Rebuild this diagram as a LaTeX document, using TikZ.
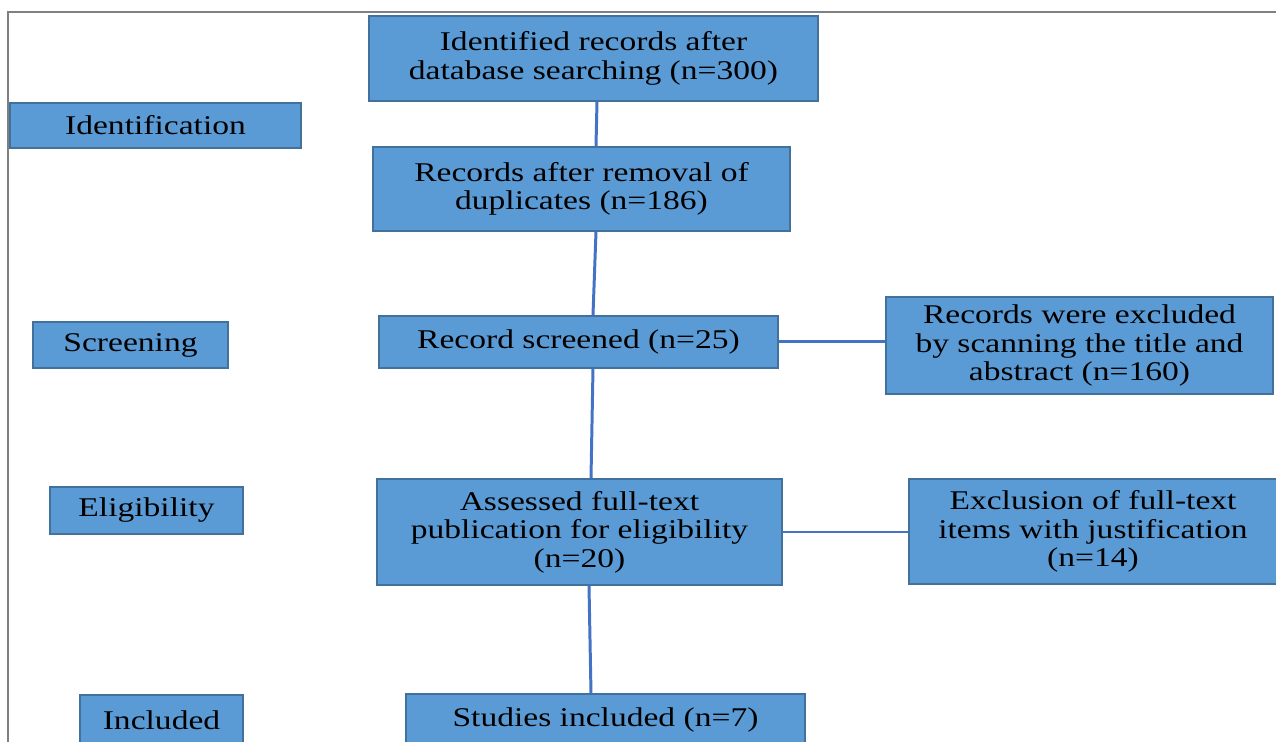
\documentclass[tikz,border=0pt]{standalone}
\usepackage{fontspec}
\setmainfont{Liberation Serif}[FakeStretch=1.24]
\definecolor{boxfill}{HTML}{5B9BD5}
\definecolor{boxline}{HTML}{41719C}
\definecolor{linkblue}{HTML}{4472C4}
\begin{document}
\begin{tikzpicture}[x=0.02cm,y=-0.02cm,
  every node/.style={inner sep=1pt},
  box/.style={draw=boxline,line width=0.8pt,fill=boxfill,align=center,
    font=\fontsize{15.4}{16.2}\selectfont},
  link/.style={draw=linkblue,line width=1.7pt}]
  \useasboundingbox (0,0) rectangle (1276,742);
  \clip (0,0) rectangle (1276,742);
  \draw[gray,line width=0.6pt] (8,742) -- (8,12) -- (1276,12);
  \node[box,minimum width=5.82cm,minimum height=0.9cm] (ident) at (155.5,125.5) {Identification};
  \node[box,minimum width=3.9cm,minimum height=0.92cm] (screen) at (130.5,345) {Screening};
  \node[box,minimum width=3.86cm,minimum height=0.94cm] (elig) at (146.5,510.5) {Eligibility};
  \node[box,minimum width=3.26cm,minimum height=1cm] (incl) at (161.5,720) {Included};
  \node[box,minimum width=8.98cm,minimum height=1.7cm] (found) at (593.5,58.5)
    {Identified records after\\database searching (n=300)};
  \node[box,minimum width=8.34cm,minimum height=1.68cm] (dedup) at (581.5,189)
    {Records after removal of\\duplicates (n=186)};
  \node[box,minimum width=7.98cm,minimum height=1.04cm] (screened) at (578.5,342)
    {Record screened (n=25)};
  \node[box,minimum width=8.1cm,minimum height=2.12cm] (fulltext) at (579.5,532)
    {Assessed full-text\\publication for eligibility\\(n=20)};
  \node[box,minimum width=7.98cm,minimum height=1.04cm] (studies) at (605.5,720)
    {Studies included (n=7)};
  \node[box,minimum width=7.74cm,minimum height=1.94cm] (dropped) at (1079.5,345.5)
    {Records were excluded\\by scanning the title and\\abstract (n=160)};
  \node[box,minimum width=7.36cm,minimum height=2.1cm] (justified) at (1093,531.5)
    {Exclusion of full-text\\items with justification\\(n=14)};
  \draw[link] ([xshift=0.07cm]found.south) -- ([xshift=0.29cm]dedup.north);
  \draw[link] ([xshift=0.29cm]dedup.south) -- ([xshift=0.29cm]screened.north);
  \draw[link] ([xshift=0.29cm]screened.south) -- ([xshift=0.23cm]fulltext.north);
  \draw[link] ([xshift=0.19cm]fulltext.south) -- ([xshift=-0.29cm]studies.north);
  \draw[link] (screened.east) -- (screened.east -| dropped.west);
  \draw[link] (fulltext.east) -- (fulltext.east -| justified.west);
\end{tikzpicture}
\end{document}
